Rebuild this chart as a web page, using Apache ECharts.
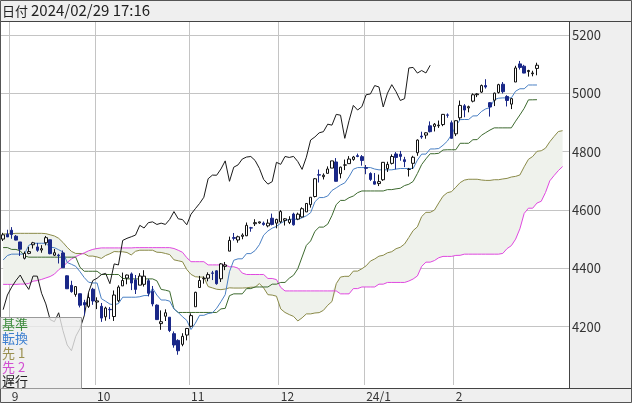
<!DOCTYPE html>
<html>
<head>
<meta charset="utf-8">
<script src="https://cdn.jsdelivr.net/npm/echarts@6/dist/echarts.min.js"></script>
<style>
html,body{margin:0;padding:0;background:#fff;}
#main{width:632px;height:403px;}
</style>
</head>
<body>
<div id="main"></div>
<script>
// 日足 (2023/08/30 - 2024/02/29) + 先行スパン用の未来日
var dates = [
'2023-08-30','2023-08-31',
'2023-09-01','2023-09-05','2023-09-06','2023-09-07','2023-09-08','2023-09-11','2023-09-12','2023-09-13','2023-09-14','2023-09-15',
'2023-09-18','2023-09-19','2023-09-20','2023-09-21','2023-09-22','2023-09-25','2023-09-26','2023-09-27','2023-09-28','2023-09-29',
'2023-10-02','2023-10-03','2023-10-04','2023-10-05','2023-10-06','2023-10-09','2023-10-10','2023-10-11','2023-10-12','2023-10-13',
'2023-10-16','2023-10-17','2023-10-18','2023-10-19','2023-10-20','2023-10-23','2023-10-24','2023-10-25','2023-10-26','2023-10-27',
'2023-10-30','2023-10-31',
'2023-11-01','2023-11-02','2023-11-03','2023-11-06','2023-11-07','2023-11-08','2023-11-09','2023-11-10','2023-11-13','2023-11-14',
'2023-11-15','2023-11-16','2023-11-17','2023-11-20','2023-11-21','2023-11-22','2023-11-24','2023-11-27','2023-11-28','2023-11-29',
'2023-11-30',
'2023-12-01','2023-12-04','2023-12-05','2023-12-06','2023-12-07','2023-12-08','2023-12-11','2023-12-12','2023-12-13','2023-12-14',
'2023-12-15','2023-12-18','2023-12-19','2023-12-20','2023-12-21','2023-12-22','2023-12-26','2023-12-27','2023-12-28','2023-12-29',
'2024-01-02','2024-01-03','2024-01-04','2024-01-05','2024-01-08','2024-01-09','2024-01-10','2024-01-11','2024-01-12','2024-01-16',
'2024-01-17','2024-01-18','2024-01-19','2024-01-22','2024-01-23','2024-01-24','2024-01-25','2024-01-26','2024-01-29','2024-01-30',
'2024-01-31',
'2024-02-01','2024-02-02','2024-02-05','2024-02-06','2024-02-07','2024-02-08','2024-02-09','2024-02-12','2024-02-13','2024-02-14',
'2024-02-15','2024-02-16','2024-02-20','2024-02-21','2024-02-22','2024-02-23','2024-02-26','2024-02-27','2024-02-28','2024-02-29',
'2024-03-01','2024-03-04','2024-03-05','2024-03-06','2024-03-07','2024-03-08','2024-03-11'
];

var open = [4500.3,4517.0,4530.6,4510.1,4490.4,4434.6,4451.3,4480.9,4473.3,4462.7,
4487.8,4497.9,4445.1,4445.4,4452.8,4374.4,4341.7,4310.6,4312.9,4282.6,
4269.7,4328.2,4284.5,4269.8,4233.8,4259.3,4234.8,4289.0,4339.8,4366.6,
4380.9,4360.5,4342.4,4345.2,4357.4,4321.4,4273.9,4210.4,4235.8,4232.4,
4176.0,4152.9,4139.4,4171.3,4201.3,4268.3,4334.2,4364.3,4366.2,4384.4,
4391.4,4364.2,4406.7,4459.0,4505.3,4497.1,4509.6,4511.7,4538.8,4553.0,
4555.8,4554.9,4545.6,4571.8,4554.9,4559.4,4564.4,4557.3,4586.2,4568.8,
4576.2,4593.4,4618.3,4646.2,4721.0,4714.2,4725.6,4743.7,4764.7,4724.3,
4753.9,4758.9,4773.5,4786.4,4782.9,4745.2,4725.1,4697.4,4690.6,4703.7,
4741.9,4759.9,4792.1,4791.2,4772.4,4739.1,4760.1,4796.3,4853.4,4856.8,
4888.6,4886.7,4888.9,4892.9,4925.9,4899.2,4861.1,4916.1,4957.2,4950.2,
4973.1,4995.2,5004.2,5026.8,4967.9,4976.4,5003.1,5031.1,4989.3,4963.0,
5038.8,5100.9,5093.0,5074.6,5067.2,5085.4];

var high = [4521.7,4532.3,4541.3,4514.3,4490.4,4457.8,4473.5,4490.8,4487.1,4479.4,
4511.0,4497.9,4466.4,4449.9,4461.0,4375.7,4357.4,4338.5,4313.0,4292.1,
4317.3,4333.2,4300.6,4281.2,4268.5,4267.1,4324.1,4341.7,4385.5,4378.6,
4385.9,4377.1,4383.3,4393.6,4364.2,4339.5,4276.6,4255.8,4259.4,4232.4,
4183.6,4156.7,4177.5,4195.6,4245.6,4319.7,4374.0,4372.2,4386.3,4391.2,
4393.4,4418.0,4421.8,4508.7,4521.2,4512.0,4520.1,4557.1,4542.1,4568.4,
4560.3,4560.5,4568.1,4587.6,4569.9,4599.4,4572.4,4578.6,4590.7,4590.9,
4609.2,4623.0,4643.9,4709.7,4738.6,4725.5,4749.5,4768.7,4778.0,4748.7,
4772.9,4784.7,4785.4,4793.3,4788.4,4754.3,4729.3,4726.8,4721.5,4764.5,
4765.5,4790.8,4798.5,4802.4,4782.3,4744.2,4785.8,4842.1,4868.4,4866.5,
4903.7,4898.2,4906.7,4929.3,4931.1,4906.8,4907.0,4975.3,4963.0,4957.8,
4999.9,5000.4,5030.1,5048.4,4970.0,5002.5,5032.7,5038.7,4993.6,4983.2,
5094.4,5111.1,5097.7,5080.7,5077.4,5105.0];

var low = [4493.6,4507.4,4501.4,4496.0,4442.4,4430.5,4448.4,4467.9,4456.8,4453.5,
4478.7,4448.0,4442.1,4416.6,4401.4,4329.2,4316.5,4302.7,4266.0,4238.6,
4264.4,4274.9,4260.2,4216.5,4220.5,4225.9,4219.6,4283.8,4339.6,4345.3,
4325.4,4312.0,4342.4,4337.5,4303.8,4269.7,4223.0,4189.2,4219.4,4181.4,
4127.9,4103.8,4132.9,4153.1,4197.7,4268.3,4334.2,4347.5,4355.4,4359.8,
4343.9,4353.3,4393.8,4459.0,4495.3,4487.8,4499.7,4510.4,4525.5,4545.1,
4552.8,4546.3,4540.5,4547.2,4537.2,4554.7,4546.7,4551.7,4546.5,4565.2,
4574.1,4593.4,4608.1,4643.2,4694.3,4704.7,4725.6,4743.7,4697.8,4708.4,
4736.8,4758.9,4768.9,4781.0,4752.0,4722.7,4699.7,4687.5,4682.1,4699.8,
4730.4,4756.2,4739.6,4769.0,4747.1,4714.8,4740.6,4785.9,4844.1,4844.4,
4865.9,4869.3,4881.5,4887.4,4916.3,4845.2,4853.5,4908.0,4918.1,4934.9,
4969.1,4987.1,5001.4,5016.3,4920.3,4956.4,4999.4,4999.5,4955.0,4946.0,
5038.8,5081.5,5068.9,5057.3,5058.4,5061.9];

var close = [4514.9,4507.7,4515.8,4496.8,4465.5,4451.1,4457.5,4487.5,4461.9,4467.4,
4505.1,4450.3,4453.5,4444.0,4402.2,4330.0,4320.1,4337.4,4273.5,4274.5,
4299.7,4288.1,4288.4,4229.5,4263.8,4258.2,4308.5,4335.7,4358.2,4377.0,
4349.6,4327.8,4373.6,4373.2,4314.6,4278.0,4224.2,4217.0,4247.7,4186.8,
4137.2,4117.4,4166.8,4193.8,4237.9,4317.8,4358.3,4366.0,4378.4,4382.8,
4347.4,4415.2,4411.6,4495.7,4502.9,4508.2,4514.0,4547.4,4538.2,4556.6,
4559.3,4550.4,4554.9,4550.6,4567.8,4594.6,4569.8,4567.2,4549.3,4585.6,
4604.4,4622.4,4643.7,4707.1,4719.6,4719.2,4740.6,4768.4,4698.4,4746.8,
4754.6,4774.8,4781.6,4783.4,4769.8,4742.8,4704.8,4688.7,4697.2,4763.5,
4756.5,4783.5,4780.2,4783.8,4766.0,4739.2,4780.9,4839.8,4850.4,4864.6,
4868.6,4894.2,4891.0,4927.9,4925.0,4845.7,4906.2,4958.6,4942.8,4954.2,
4995.1,4997.9,5026.6,5021.8,4953.2,5000.6,5029.7,5005.6,4975.5,4981.8,
5087.0,5088.8,5069.5,5078.2,5069.8,5096.3];

// 転換線
var tenkan = [4428.5,4444.0,4448.7,4448.7,4448.7,4448.7,4478.7,4485.9,4485.9,4485.9,
4485.9,4472.4,4470.8,4463.8,4456.2,4420.1,4413.8,4406.9,4388.5,4368.3,
4352.5,4349.8,4349.8,4296.1,4287.0,4277.5,4274.9,4279.1,4301.0,4301.0,
4301.0,4301.0,4302.6,4306.6,4306.6,4331.7,4308.3,4291.4,4291.4,4287.5,
4260.8,4248.7,4234.0,4221.7,4190.2,4211.8,4238.9,4238.9,4245.0,4247.5,
4263.2,4285.6,4309.8,4388.5,4427.7,4432.6,4432.6,4450.5,4450.5,4460.9,
4481.1,4513.7,4528.1,4537.7,4543.7,4554.9,4562.5,4568.3,4568.3,4568.3,
4573.2,4580.1,4590.6,4628.1,4642.6,4642.6,4648.0,4667.0,4676.0,4685.7,
4693.0,4714.0,4739.8,4745.5,4745.5,4745.5,4745.5,4740.4,4737.7,4737.7,
4737.7,4737.7,4740.3,4742.3,4742.3,4742.3,4742.3,4771.0,4791.6,4791.6,
4809.3,4809.3,4810.8,4822.0,4835.9,4858.5,4887.6,4909.9,4910.3,4910.3,
4922.6,4922.8,4937.7,4946.8,4951.0,4978.2,4983.3,4984.4,4984.4,4984.4,
5007.4,5015.7,5015.7,5028.6,5028.6,5028.6];

// 基準線
var kijun = [4471.2,4471.2,4464.8,4464.8,4460.0,4443.1,4438.3,4438.3,4438.3,4438.3,
4438.3,4438.3,4438.3,4438.3,4438.3,4438.3,4438.3,4438.3,4403.6,4390.0,
4390.0,4390.0,4390.0,4378.9,4378.9,4378.9,4378.9,4378.9,4365.4,4363.8,
4363.8,4363.8,4363.8,4363.8,4363.8,4363.8,4357.2,4327.8,4325.1,4321.2,
4260.8,4248.7,4248.7,4248.7,4248.7,4248.7,4248.7,4248.7,4248.7,4248.7,
4248.7,4260.9,4262.8,4306.3,4312.5,4312.5,4312.5,4330.5,4330.5,4336.1,
4336.1,4336.1,4336.1,4345.7,4345.7,4351.6,4351.6,4366.2,4376.3,4398.6,
4438.8,4478.6,4493.9,4526.8,4541.3,4541.3,4551.4,4581.3,4618.5,4632.9,
4632.9,4642.2,4647.9,4659.4,4665.3,4665.3,4665.3,4665.3,4665.3,4665.3,
4669.9,4669.9,4672.5,4674.5,4683.8,4688.3,4697.9,4725.1,4755.8,4775.3,
4792.9,4792.9,4794.4,4805.7,4806.6,4806.6,4806.6,4828.7,4828.7,4828.7,
4841.0,4841.3,4856.1,4865.3,4874.1,4881.6,4881.6,4881.6,4881.6,4881.6,
4904.6,4925.9,4948.5,4977.6,4977.8,4978.2];

// 先行スパン1 (25本先に表示済みの位置で)
var senkouA = [4518,4518,4519,4520,4520,4520,4520,4520,4520,4520,
4519,4515,4511,4503,4489,4472,4458,4451,4451,4450,
4442,4442,4439,4434,4444,4449.9,4457.6,4456.8,4456.8,4454.3,
4445.9,4458.5,4462.1,4462.1,4462.1,4462.1,4455.3,4454.5,4451.0,4447.2,
4429.2,4426.0,4422.6,4396.0,4379.1,4371.2,4369.9,4369.9,4337.5,4333.0,
4328.2,4326.9,4329.0,4333.2,4332.4,4332.4,4332.4,4333.2,4335.2,4335.2,
4347.8,4332.8,4309.6,4308.3,4304.4,4260.8,4248.7,4241.4,4235.2,4219.5,
4230.3,4243.8,4243.8,4246.9,4248.1,4256.0,4273.3,4286.3,4347.4,4370.1,
4372.6,4372.6,4390.5,4390.5,4398.5,4408.6,4424.9,4432.1,4441.7,4444.7,
4453.3,4457.1,4467.3,4472.3,4483.5,4506.0,4529.4,4542.3,4577.5,4592.0,
4592.0,4599.7,4624.2,4647.3,4659.3,4663.0,4678.1,4693.9,4702.5,4705.4,
4705.4,4705.4,4702.9,4701.5,4701.5,4703.8,4703.8,4706.4,4708.4,4713.1,
4715.3,4720.1,4748.1,4773.7,4783.5,4801.1,4803,4812,4834,4852,
4869,4872,null];

// 先行スパン2
var senkouB = [4345,4345,4345,4345,4346,4346,4348,4356,4358,4362,
4367,4372,4380,4395,4406,4420,4432,4440,4447,4453,
4460,4465,4468,4470,4470,4470,4470,4470,4470,4470,
4470,4471,4471,4471,4471,4471,4471,4471,4471,4471,
4468,4462,4455,4436.5,4422.8,4422.8,4422.8,4422.8,4411.8,4411.8,
4411.8,4411.8,4411.8,4405.4,4405.4,4400.6,4383.7,4378.9,4378.9,4378.9,
4378.9,4378.9,4365.3,4365.3,4361.4,4334.6,4322.6,4322.6,4322.6,4322.6,
4322.6,4322.6,4322.6,4322.6,4322.6,4322.6,4322.6,4322.6,4322.6,4312.5,
4312.5,4312.5,4330.5,4330.5,4336.1,4336.1,4336.1,4336.1,4345.7,4345.7,
4351.6,4351.6,4351.6,4351.6,4351.6,4356.5,4363.4,4373.9,4406.8,4421.2,
4421.2,4426.7,4436.3,4440.9,4440.9,4440.9,4444.3,4444.6,4448.6,4448.6,
4448.6,4448.6,4448.6,4448.6,4448.6,4448.6,4448.6,4451.2,4467.7,4477.8,
4500.1,4535.4,4588.2,4606.2,4606.2,4623.8,4630,4660,4700,4718,
4735,4749,null];

var chikouShift = 25;
var yTicks = [4200, 4400, 4600, 4800, 5000, 5200];

var chart = echarts.init(document.getElementById('main'));

var candles = [];
for (var i = 0; i < close.length; i++) {
    candles.push([open[i], close[i], low[i], high[i]]);
}
// 遅行スパン: 終値を25本前にずらす
var chikou = close.slice(chikouShift);

// 雲の塗り (下側 + 幅 を積み上げ)
var kumoBase = [], kumoDiff = [];
for (var j = 0; j < dates.length; j++) {
    var a = senkouA[j], b = senkouB[j];
    if (a == null || b == null) {
        kumoBase.push(null); kumoDiff.push(null);
    } else {
        kumoBase.push(Math.min(a, b));
        kumoDiff.push(Math.abs(a - b));
    }
}

function isMonthStart(i) {
    return i > 0 && i < close.length && dates[i].slice(5, 7) !== dates[i - 1].slice(5, 7);
}

var FONT = 'Noto Sans CJK JP';

var option = {
    animation: false,
    backgroundColor: '#ffffff',
    textStyle: { fontFamily: FONT },
    grid: { left: 1, right: 63, top: 21, bottom: 18 },
    xAxis: {
        type: 'category',
        data: dates,
        boundaryGap: true,
        axisLine: { show: false },
        axisTick: { show: false },
        splitLine: {
            show: true,
            interval: function (idx) { return isMonthStart(idx); },
            lineStyle: { color: '#c4c4c4', width: 1 }
        },
        axisLabel: {
            interval: function (idx) { return isMonthStart(idx); },
            formatter: function (v) {
                var m = parseInt(v.slice(5, 7), 10);
                return m === 1 ? v.slice(2, 4) + '/1' : String(m);
            },
            align: 'left',
            margin: 5,
            color: '#333',
            fontSize: 12,
            fontFamily: FONT
        }
    },
    yAxis: {
        type: 'value',
        position: 'right',
        min: 4000,
        max: 5248,
        interval: 200,
        axisLine: { show: false },
        axisTick: { show: false },
        axisLabel: {
            showMinLabel: false,
            showMaxLabel: false,
            formatter: function (v) { return yTicks.indexOf(v) >= 0 ? String(v) : ''; },
            margin: 3,
            align: 'left',
            color: '#333',
            fontSize: 13,
            fontFamily: FONT
        },
        splitLine: { showMinLine: false, showMaxLine: false, lineStyle: { color: '#c4c4c4', width: 1 } }
    },
    series: [
        {
            name: 'kumoBase', type: 'line', stack: 'kumo', data: kumoBase,
            symbol: 'none', silent: true, lineStyle: { opacity: 0 }, z: 1
        },
        {
            name: 'kumo', type: 'line', stack: 'kumo', data: kumoDiff,
            symbol: 'none', silent: true, lineStyle: { opacity: 0 },
            areaStyle: { color: '#eff2ec', opacity: 1 }, z: 1
        },
        {
            name: '先1', type: 'line', data: senkouA, symbol: 'none',
            lineStyle: { color: '#8a8a48', width: 1 }, z: 2
        },
        {
            name: '先2', type: 'line', data: senkouB, symbol: 'none',
            lineStyle: { color: '#e048e0', width: 1 }, z: 2
        },
        {
            name: '基準', type: 'line', data: kijun, symbol: 'none',
            lineStyle: { color: '#3d6a2f', width: 1 }, z: 3
        },
        {
            name: '転換', type: 'line', data: tenkan, symbol: 'none',
            lineStyle: { color: '#4a80c4', width: 1 }, z: 3
        },
        {
            name: '遅行', type: 'line', data: chikou, symbol: 'none',
            lineStyle: { color: '#1a1a1a', width: 1 }, z: 3
        },
        {
            name: 'price', type: 'candlestick', data: candles, barWidth: 3, z: 5,
            itemStyle: {
                color: '#ffffff', color0: '#1a2888',
                borderColor: '#111111', borderColor0: '#1a2888', borderWidth: 1
            }
        }
    ],
    graphic: [
        { type: 'rect', z: -10, shape: { x: 0, y: 0, width: 632, height: 21 }, style: { fill: '#efefef' } },
        { type: 'rect', z: -10, shape: { x: 569, y: 21, width: 63, height: 367 }, style: { fill: '#efefef' } },
        { type: 'rect', z: -10, shape: { x: 0, y: 388, width: 632, height: 15 }, style: { fill: '#efefef' } },
        { type: 'text', z: 50, x: 2, y: 11, style: { text: '日付', fontFamily: FONT, fontSize: 13, fill: '#222', verticalAlign: 'middle' } },
        { type: 'text', z: 50, x: 31, y: 10.5, style: { text: '2024/02/29 17:16', fontFamily: FONT, fontSize: 15, fill: '#222', verticalAlign: 'middle' } },
        { type: 'line', z: 50, shape: { x1: 0, y1: 21.5, x2: 632, y2: 21.5 }, style: { stroke: '#444', lineWidth: 1 } },
        { type: 'line', z: 50, shape: { x1: 569.5, y1: 21, x2: 569.5, y2: 388 }, style: { stroke: '#444', lineWidth: 1 } },
        { type: 'line', z: 50, shape: { x1: 0, y1: 388.5, x2: 632, y2: 388.5 }, style: { stroke: '#444', lineWidth: 1 } },
        { type: 'rect', z: 50, shape: { x: 0.5, y: 0.5, width: 631, height: 402 }, style: { fill: 'none', stroke: '#555', lineWidth: 1 } },
        // 凡例ボックス
        { type: 'rect', z: 100, shape: { x: 0.5, y: 317.5, width: 81, height: 71 }, style: { fill: 'rgba(236,236,236,0.8)', stroke: '#9a9a9a', lineWidth: 1 } },
        { type: 'text', z: 101, x: 2, y: 324, style: { text: '基準', fill: '#3b8a3b', fontFamily: FONT, fontSize: 13, verticalAlign: 'middle' } },
        { type: 'text', z: 101, x: 2, y: 338, style: { text: '転換', fill: '#3c7fd0', fontFamily: FONT, fontSize: 13, verticalAlign: 'middle' } },
        { type: 'text', z: 101, x: 2, y: 353, style: { text: '先 1', fill: '#9b9050', fontFamily: FONT, fontSize: 13, verticalAlign: 'middle' } },
        { type: 'text', z: 101, x: 2, y: 367, style: { text: '先 2', fill: '#d24fd2', fontFamily: FONT, fontSize: 13, verticalAlign: 'middle' } },
        { type: 'text', z: 101, x: 2, y: 381, style: { text: '遅行', fill: '#222', fontFamily: FONT, fontSize: 13, verticalAlign: 'middle' } }
    ]
};

chart.setOption(option);
</script>
</body>
</html>
